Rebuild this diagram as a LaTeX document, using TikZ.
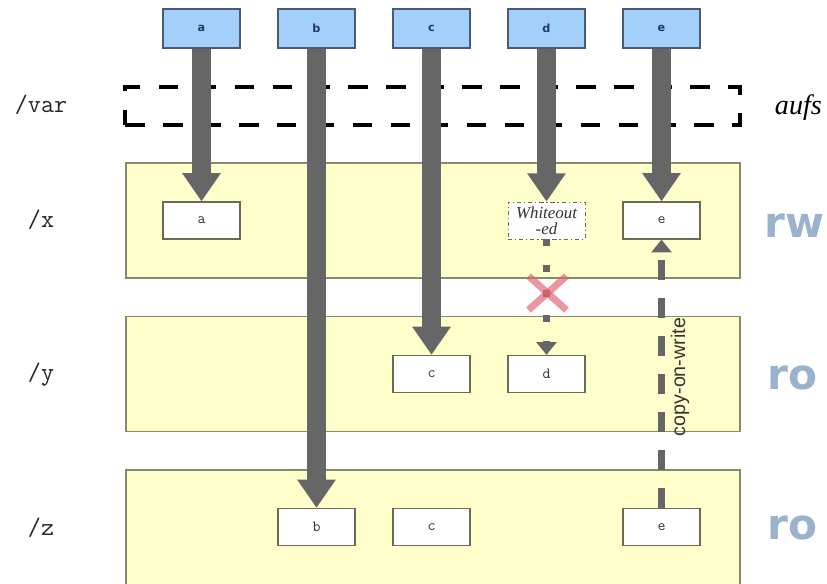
\documentclass[tikz,border=0pt]{standalone}
\usepackage{fontspec}
\setmainfont{Liberation Serif}
\setsansfont{Liberation Sans}
\newfontfamily\modefont{DejaVu Sans}
\usetikzlibrary{arrows.meta}
\definecolor{topblue}{HTML}{A3CFFB}
\definecolor{topborder}{HTML}{4A5A70}
\definecolor{toptext}{HTML}{1F3A6B}
\definecolor{layerfill}{HTML}{FFFFCC}
\definecolor{layerborder}{HTML}{8A8A6A}
\definecolor{boxborder}{HTML}{6B6B55}
\definecolor{arrowgray}{HTML}{666666}
\definecolor{xred}{HTML}{E06070}
\definecolor{rotext}{HTML}{9AB3CC}
\tikzset{
	srcbox/.style={draw=topborder, fill=topblue, line width=.9pt, minimum width=1.925cm, minimum height=0.975cm, text=toptext, font=\modefont\bfseries\fontsize{8}{8}\selectfont},
	layer/.style={draw=layerborder, fill=layerfill, line width=1pt, minimum width=15.35cm, minimum height=2.875cm},
	file/.style={draw=boxborder, fill=white, line width=.9pt, minimum width=1.925cm, minimum height=0.925cm, text=black!80, font=\ttfamily\fontsize{11}{11}\selectfont},
	wobox/.style={file, dash dot, line width=.6pt, inner sep=0pt, align=center, font=\itshape\fontsize{12}{11.5}\selectfont},
	aufsbox/.style={draw=black, line width=2.8pt, dash pattern=on 14pt off 13pt},
	mount/.style={text=black!85, font=\ttfamily\fontsize{18}{18}\selectfont},
	mode/.style={anchor=base west, text=rotext, font=\modefont\bfseries\fontsize{30}{30}\selectfont},
	lookup/.style={draw=arrowgray, line width=13pt, -{Triangle[width=26pt,length=20pt]}},
	hidden/.style={draw=arrowgray, line width=5pt, dash pattern=on 5pt off 13pt, -{Triangle[width=14pt,length=9pt]}},
	cow/.style={draw=arrowgray, line width=5.5pt, dash pattern=on 14pt off 13pt, -{Triangle[width=14pt,length=9pt]}}
}
\begin{document}
\begin{tikzpicture}[x=0.025cm,y=-0.025cm]
	\useasboundingbox[fill=white] (0,0) rectangle (827,584);
	\node [layer] (lx) at (433,220.5) {};
	\node [layer] (ly) at (433,374) {};
	\node [layer] (lz) at (433,527.5) {};
	\node [aufsbox, minimum width=15.375cm, minimum height=0.95cm] (var) at (432.5,106) {};
	\node [mount] at (41,105) {/var};
	\node [mount] at (41,220) {/x};
	\node [mount] at (41,375) {/y};
	\node [mount] at (41,528) {/z};
	\node [anchor=base west, font=\itshape\fontsize{20}{20}\selectfont] at (770,115) {aufs};
	\node [mode] at (760,237) {rw};
	\node [mode] at (763,389) {ro};
	\node [mode] at (763,539) {ro};
	\node [srcbox] (ta) at (201.5,28.5) {a};
	\node [srcbox] (tb) at (316.5,28.5) {b};
	\node [srcbox] (tc) at (431.5,28.5) {c};
	\node [srcbox] (td) at (546.5,28.5) {d};
	\node [srcbox] (te) at (661.5,28.5) {e};
	\node [file] (xa) at (201.5,220.5) {a};
	\node [wobox] (xw) at (546.5,220.5) {Whiteout\\-ed};
	\node [file] (xe) at (661.5,220.5) {e};
	\node [file] (yc) at (431.5,374) {c};
	\node [file] (yd) at (546.5,374) {d};
	\node [file] (zb) at (316.5,527) {b};
	\node [file] (zc) at (431.5,527) {c};
	\node [file] (ze) at (661.5,527) {e};
	\draw [lookup] (ta.south)--(xa.north);
	\draw [lookup] (tb.south)--(zb.north);
	\draw [lookup] (tc.south)--(yc.north);
	\draw [lookup] (td.south)--(xw.north);
	\draw [lookup] (te.south)--(xe.north);
	\draw [hidden] (xw.south)--(yd.north);
	\coordinate (cross) at (547.5,293);
	\draw [xred, line width=5pt, opacity=.65] ([shift={(-19,-17)}]cross)--([shift={(19,17)}]cross);
	\draw [xred, line width=5pt, opacity=.65] ([shift={(-19,17)}]cross)--([shift={(19,-17)}]cross);
	\draw [cow] (ze.north)--(xe.south);
	\node [rotate=90, text=black!80, font=\sffamily\fontsize{14}{14}\selectfont] at (680,377) {copy-on-write};
\end{tikzpicture}
\end{document}
